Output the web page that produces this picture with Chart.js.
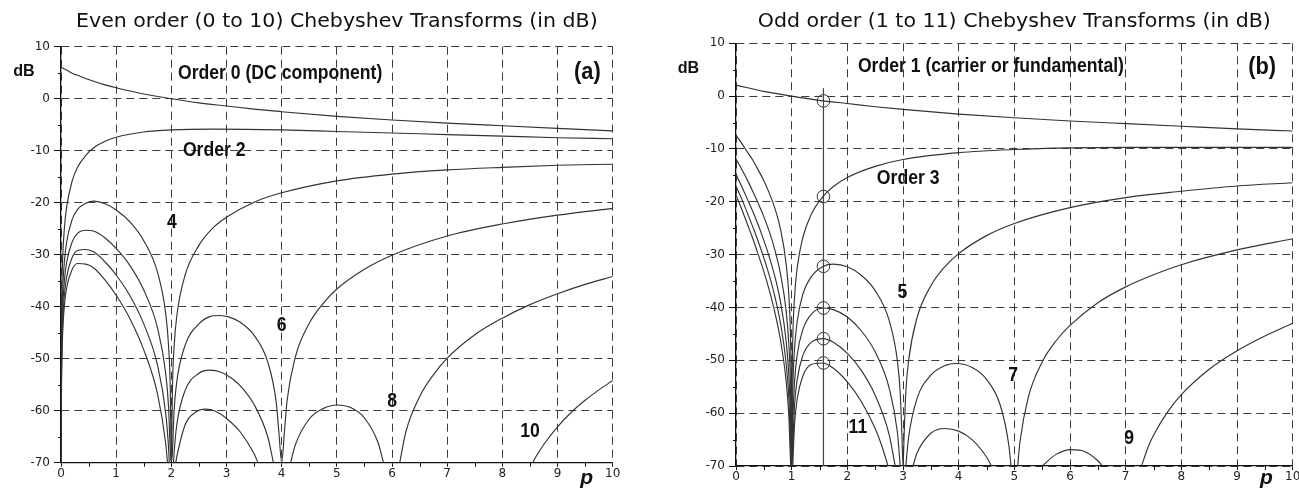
<!DOCTYPE html>
<html>
<head>
<meta charset="utf-8">
<title>Chebyshev Transforms (in dB)</title>
<script src="https://cdn.jsdelivr.net/npm/chart.js@4.4.1/dist/chart.umd.min.js"></script>
<style>
  html, body { margin: 0; padding: 0; background: #fff; overflow: hidden; width: 1299px; height: 489px; }
  .panel { position: absolute; top: 0; }
  #evenWrap { left: 0; width: 650px; height: 489px; }
  #oddWrap { left: 650px; width: 660px; height: 489px; }
</style>
</head>
<body>
<div class="panel" id="evenWrap"><canvas id="evenChart" width="650" height="489"></canvas></div>
<div class="panel" id="oddWrap"><canvas id="oddChart" width="660" height="489"></canvas></div>
<script>
// ---- Data: [p, dB] pairs; null marks where a curve drops below the -70 dB floor ----

// Even orders
const order0 = [[0,6.0],[0.1,5.5],[0.2,4.9],[0.3,4.5],[0.5,3.7],[0.75,2.8],[1,2.1],[1.5,0.9],[2,0],[2.5,-0.8],[3,-1.4],[3.5,-2.0],[4,-2.5],[5,-3.4],[6,-4.1],[7,-4.7],[8,-5.2],[9,-5.7],[10,-6.2]];
const order2 = [[0,-70],[0.003,-50.5],[0.01,-40.1],[0.03,-30.8],[0.06,-25.1],[0.1,-21.0],[0.2,-15.9],[0.3,-13.2],[0.45,-10.9],[0.6,-9.4],[0.8,-8.2],[1,-7.4],[1.5,-6.4],[2,-6.0],[2.75,-5.85],[4,-6.0],[5,-6.3],[6,-6.6],[7,-6.9],[8,-7.2],[9,-7.5],[10,-7.7]];
const order4 = [[0,-70],[0.003,-56.5],[0.01,-46.2],[0.03,-37.0],[0.06,-31.5],[0.1,-27.7],[0.2,-23.3],[0.3,-21.3],[0.45,-20.1],[0.6,-19.7],[0.8,-20.2],[1,-21.4],[1.25,-23.7],[1.5,-27.3],[1.75,-33.4],[1.9,-41.5],[1.95,-47.6],[1.98,-55.6],[1.995,-67.6],[2,-70],[2.005,-67.6],[2.02,-55.6],[2.05,-47.7],[2.1,-41.7],[2.25,-33.9],[2.5,-28.2],[2.75,-24.9],[3,-22.8],[3.5,-19.9],[4,-18.1],[5,-15.8],[6,-14.5],[7,-13.7],[8,-13.2],[9,-12.8],[10,-12.6]];
const order6 = [[0,-70],[0.003,-60.0],[0.01,-49.8],[0.03,-40.6],[0.06,-35.2],[0.1,-31.6],[0.2,-27.6],[0.3,-25.9],[0.45,-25.3],[0.6,-25.5],[0.8,-26.8],[1,-28.8],[1.25,-32.1],[1.5,-36.8],[1.75,-44.1],[1.9,-53.0],[1.95,-59.4],[1.98,-67.5],[2,-70],[2.02,-67.8],[2.05,-60.0],[2.1,-54.3],[2.25,-47.4],[2.5,-43.3],[2.7,-41.9],[2.88,-41.7],[3.05,-42.0],[3.25,-43.0],[3.5,-45.5],[3.75,-50.7],[3.9,-58.3],[3.95,-64.2],[4,-70],[4.05,-64.0],[4.1,-57.9],[4.25,-49.6],[4.5,-43.2],[4.75,-39.4],[5,-36.6],[5.5,-32.8],[6,-30.1],[7,-26.4],[8,-24.1],[9,-22.4],[10,-21.1]];
const order8 = [[0,-70],[0.003,-62.5],[0.01,-52.3],[0.03,-43.2],[0.06,-37.9],[0.1,-34.4],[0.2,-30.6],[0.3,-29.2],[0.45,-29.0],[0.6,-29.5],[0.8,-31.4],[1,-33.9],[1.25,-37.9],[1.5,-43.3],[1.75,-51.3],[1.9,-60.7],[1.95,-67.2],[1.963,-70],[2,null],[2.04,-70],[2.05,-68.1],[2.1,-62.6],[2.25,-56.1],[2.5,-52.8],[2.7,-52.2],[2.9,-52.6],[3.1,-53.8],[3.3,-55.8],[3.5,-58.8],[3.75,-65.1],[3.85,-70],[4,null],[4.16,-70],[4.25,-66.5],[4.5,-61.6],[4.75,-59.6],[5,-58.9],[5.25,-59.4],[5.5,-61.4],[5.75,-66.2],[5.845,-70],[6,null],[6.14,-70],[6.25,-64.1],[6.5,-57.3],[6.75,-53.1],[7,-49.9],[7.5,-45.4],[8,-42.2],[8.5,-39.6],[9,-37.5],[9.5,-35.7],[10,-34.2]];
const order10 = [[0,-70],[0.003,-64.4],[0.01,-54.3],[0.03,-45.2],[0.06,-40.0],[0.1,-36.5],[0.2,-32.9],[0.3,-31.7],[0.45,-31.8],[0.6,-32.6],[0.8,-34.9],[1,-37.8],[1.25,-42.3],[1.5,-48.3],[1.75,-56.8],[1.9,-66.5],[1.93,-70],[2,null],[2.08,-70],[2.1,-68.8],[2.25,-62.7],[2.45,-60.2],[2.62,-59.7],[2.8,-60.1],[3,-61.5],[3.25,-64.1],[3.5,-68.3],[3.57,-70],[6,null],[8.55,-70],[8.6,-69.0],[8.75,-66.5],[9,-63.1],[9.25,-60.3],[9.5,-58.0],[9.75,-56.0],[10,-54.2]];

// Odd orders
const order1 = [[0,2.1],[0.5,0.9],[1,0],[1.5,-0.8],[2,-1.4],[2.5,-2.0],[3,-2.5],[4,-3.4],[5,-4.1],[6,-4.7],[7,-5.2],[8,-5.7],[9,-6.2],[10,-6.6]];
const order3 = [[0,-7.4],[0.1,-8.9],[0.2,-10.5],[0.3,-12.1],[0.4,-14.0],[0.5,-16.0],[0.6,-18.4],[0.7,-21.3],[0.8,-25.2],[0.9,-31.7],[0.95,-37.9],[0.98,-46.0],[0.995,-58.0],[1,-70],[1.005,-58.1],[1.02,-46.1],[1.05,-38.3],[1.1,-32.4],[1.2,-26.8],[1.35,-22.4],[1.57,-18.9],[1.75,-17.1],[2,-15.4],[2.5,-13.3],[3,-12.0],[4,-10.7],[5,-10.1],[6,-9.8],[7,-9.7],[8,-9.7],[9,-9.7],[10,-9.7]];
const order5 = [[0,-11.9],[0.1,-13.8],[0.2,-15.8],[0.3,-18.0],[0.4,-20.3],[0.5,-22.8],[0.6,-25.7],[0.7,-29.2],[0.8,-33.7],[0.9,-40.6],[0.95,-47.1],[0.98,-55.4],[0.995,-67.5],[1,-70],[1.005,-67.7],[1.02,-55.8],[1.05,-48.1],[1.1,-42.6],[1.2,-37.5],[1.35,-34.2],[1.57,-32.2],[1.75,-31.8],[2,-32.3],[2.25,-33.9],[2.5,-36.8],[2.75,-42.4],[2.9,-50.2],[2.95,-56.2],[2.98,-64.1],[3,-70],[3.02,-64.1],[3.05,-56.1],[3.1,-50.1],[3.25,-42.0],[3.5,-35.9],[3.75,-32.3],[4,-29.8],[4.5,-26.4],[5,-24.1],[6,-21.1],[7,-19.2],[8,-18.0],[9,-17.0],[10,-16.4]];
const order7 = [[0,-14.8],[0.1,-17.0],[0.2,-19.4],[0.3,-21.8],[0.4,-24.4],[0.5,-27.3],[0.6,-30.5],[0.7,-34.2],[0.8,-39.0],[0.9,-46.3],[0.95,-53.0],[0.98,-61.3],[1,-70],[1.02,-61.9],[1.05,-54.3],[1.1,-48.9],[1.2,-44.2],[1.35,-41.3],[1.57,-40.1],[1.75,-40.4],[2,-41.8],[2.25,-44.4],[2.5,-48.4],[2.75,-55.2],[2.9,-63.7],[2.95,-70],[3,null],[3.05,-70],[3.1,-64.6],[3.25,-57.3],[3.5,-52.8],[3.75,-51.0],[3.95,-50.6],[4.25,-51.4],[4.5,-53.6],[4.75,-58.6],[4.9,-66.0],[4.94,-70],[5,null],[5.06,-70],[5.1,-65.5],[5.25,-57.0],[5.5,-50.3],[5.75,-46.3],[6,-43.4],[6.5,-39.1],[7,-36.1],[7.5,-33.8],[8,-31.9],[9,-29.1],[10,-27.0]];
const order9 = [[0,-17.0],[0.1,-19.4],[0.2,-22.0],[0.3,-24.7],[0.4,-27.5],[0.5,-30.6],[0.6,-34.0],[0.7,-38.0],[0.8,-43.0],[0.9,-50.5],[0.95,-57.3],[0.98,-65.7],[1,-70],[1.02,-66.3],[1.05,-58.8],[1.1,-53.6],[1.2,-49.1],[1.35,-46.6],[1.57,-45.9],[1.75,-46.6],[2,-48.7],[2.25,-51.9],[2.5,-56.6],[2.75,-64.0],[2.86,-70],[3,null],[3.18,-70],[3.25,-67.6],[3.5,-63.8],[3.75,-62.9],[4,-63.4],[4.25,-65.1],[4.5,-68.3],[4.59,-70],[5,null],[5.5,-70],[5.75,-67.8],[6.02,-66.9],[6.25,-67.2],[6.5,-69.0],[6.58,-70],[7,null],[7.285,-70],[7.4,-66.5],[7.5,-64.2],[7.75,-59.8],[8,-56.5],[8.5,-51.7],[9,-48.2],[9.5,-45.4],[10,-43.0]];
const order11 = [[0,-18.7],[0.1,-21.3],[0.2,-24.1],[0.3,-26.9],[0.4,-30.0],[0.5,-33.2],[0.6,-36.8],[0.7,-41.0],[0.8,-46.2],[0.9,-53.9],[0.95,-60.7],[0.98,-69.2],[0.985,-70],[1,null],[1.02,-69.9],[1.05,-62.4],[1.1,-57.3],[1.2,-53.0],[1.35,-50.8],[1.55,-50.5],[1.75,-51.5],[2,-54.1],[2.25,-57.8],[2.5,-62.9],[2.6,-65.6],[2.7,-68.9],[2.73,-70]];

// Marker line at p = pi/2 and the level of each odd order there
const markerP = 1.5708;
const markerLine = [[markerP,1.5],[markerP,-70]];
const markerLevels = [-0.9,-19.0,-32.2,-40.1,-45.9,-50.5];

// Axis ticks
const pTicks = [0,1,2,3,4,5,6,7,8,9,10];
const dbTicks = [10,0,-10,-20,-30,-40,-50,-60,-70];

// ---- Text ----
const evenTitle = 'Even order (0 to 10) Chebyshev Transforms (in dB)';
const oddTitle = 'Odd order (1 to 11) Chebyshev Transforms (in dB)';
const evenNotes = [
  { text: 'Order 0 (DC component)', p: 2.12, db: 4.9, align: 'left', style: 'note' },
  { text: 'Order 2', p: 2.21, db: -10.0, align: 'left', style: 'note' },
  { text: '(a)', p: 9.54, db: 5.0, align: 'center', style: 'panel' },
  { text: '4', p: 2.01, db: -23.9, align: 'center', style: 'note' },
  { text: '6', p: 4.0, db: -43.7, align: 'center', style: 'note' },
  { text: '8', p: 6.0, db: -58.2, align: 'center', style: 'note' },
  { text: '10', p: 8.5, db: -64.0, align: 'center', style: 'note' }
];
const oddNotes = [
  { text: 'Order 1 (carrier or fundamental)', p: 2.19, db: 5.7, align: 'left', style: 'note' },
  { text: '(b)', p: 9.45, db: 5.3, align: 'center', style: 'panel' },
  { text: 'Order 3', p: 2.53, db: -15.5, align: 'left', style: 'note' },
  { text: '5', p: 2.99, db: -37.1, align: 'center', style: 'note' },
  { text: '7', p: 4.98, db: -52.8, align: 'center', style: 'note' },
  { text: '9', p: 7.06, db: -64.7, align: 'center', style: 'note' },
  { text: '11', p: 2.19, db: -62.8, align: 'center', style: 'note' }
];

// ---- Styling ----
const INK = '#111';
const CURVE = '#333';
const GRID = '#3c3c3c';
const TEXT_STYLES = {
  note:  { font: 'bold 20px "Liberation Sans", Arial, sans-serif', sx: 0.88 },
  panel: { font: 'bold 23px "Liberation Sans", Arial, sans-serif', sx: 0.95 },
  unit:  { font: 'bold 17px "Liberation Sans", Arial, sans-serif', sx: 0.95 },
  axisP: { font: 'bold italic 21px "Liberation Sans", Arial, sans-serif', sx: 1 },
  title: { font: '19px "DejaVu Sans", sans-serif', sx: 1.08 }
};

const toXY = arr => arr.map(([x, y]) => ({ x, y }));

function curve(arr) {
  return {
    data: toXY(arr),
    borderColor: CURVE,
    borderWidth: 1.15,
    pointRadius: 0,
    fill: false,
    spanGaps: false,
    cubicInterpolationMode: 'monotone'
  };
}

function drawText(ctx, text, x, y, styleKey, align, baseline) {
  const st = TEXT_STYLES[styleKey];
  ctx.save();
  ctx.font = st.font;
  ctx.fillStyle = INK;
  ctx.textAlign = align || 'center';
  ctx.textBaseline = baseline || 'middle';
  ctx.translate(x, y);
  ctx.scale(st.sx, 1);
  ctx.fillText(text, 0, 0);
  ctx.restore();
}

// Minor ticks (half units on p, 5 dB steps on the level axis)
const minorTicks = {
  id: 'minorTicks',
  beforeDatasetsDraw(chart) {
    const { ctx, chartArea: a, scales: { x, y } } = chart;
    ctx.save();
    ctx.strokeStyle = INK;
    ctx.lineWidth = 1;
    ctx.beginPath();
    for (let v = 0.5; v < 10; v += 1) {
      const px = Math.round(x.getPixelForValue(v)) + 0.5;
      ctx.moveTo(px, a.bottom);
      ctx.lineTo(px, a.bottom + 4);
    }
    for (let v = -65; v < 10; v += 10) {
      const py = Math.round(y.getPixelForValue(v)) + 0.5;
      ctx.moveTo(a.left - 3, py);
      ctx.lineTo(a.left, py);
    }
    ctx.stroke();
    ctx.restore();
  }
};

// Titles, curve labels, unit label and the italic p
const annotations = {
  id: 'annotations',
  afterDraw(chart, args, opts) {
    const { ctx, chartArea: a, scales: { x, y } } = chart;
    drawText(ctx, opts.title, (a.left + a.right) / 2, opts.titleY, 'title', 'center', 'alphabetic');
    drawText(ctx, 'dB', a.left - opts.unitDx, y.getPixelForValue(5.3), 'unit', 'center', 'middle');
    drawText(ctx, 'p', x.getPixelForValue(9.53), a.bottom + opts.pDy, 'axisP', 'center', 'alphabetic');
    for (const n of opts.notes) {
      drawText(ctx, n.text, x.getPixelForValue(n.p), y.getPixelForValue(n.db), n.style, n.align, 'middle');
    }
  }
};

function makeOptions(cfg) {
  const tickFont = { family: '"DejaVu Sans", sans-serif', size: 12 };
  return {
    responsive: false,
    animation: false,
    events: [],
    layout: { padding: { top: cfg.top, right: cfg.right, left: 0, bottom: 0 } },
    plugins: {
      legend: { display: false },
      tooltip: { enabled: false },
      title: { display: false },
      annotations: { title: cfg.title, titleY: cfg.titleY, notes: cfg.notes, unitDx: cfg.unitDx, pDy: cfg.pDy }
    },
    scales: {
      x: {
        type: 'linear', min: 0, max: 10,
        afterFit(s) { s.height = cfg.xHeight; },
        afterBuildTicks(s) { s.ticks = pTicks.map(v => ({ value: v })); },
        ticks: { font: tickFont, color: '#222', padding: 0, maxRotation: 0, autoSkip: false },
        grid: { color: GRID, lineWidth: 1, drawTicks: true, tickLength: 4, tickColor: INK, tickBorderDash: [] },
        border: { display: true, color: INK, width: 1.3, dash: [8, 5] }
      },
      y: {
        type: 'linear', min: -70, max: 10,
        afterFit(s) { s.width = cfg.yWidth; },
        afterBuildTicks(s) { s.ticks = dbTicks.map(v => ({ value: v })); },
        ticks: { font: tickFont, color: '#222', padding: 4, autoSkip: false },
        grid: { color: GRID, lineWidth: 1, drawTicks: true, tickLength: 7, tickColor: INK, tickBorderDash: [] },
        border: { display: true, color: INK, width: 1.3, dash: [8, 5] }
      }
    }
  };
}

// Panel (a): even orders
new Chart(document.getElementById('evenChart'), {
  type: 'line',
  data: { datasets: [order0, order2, order4, order6, order8, order10].map(curve) },
  options: makeOptions({ top: 46.7, right: 37.3, yWidth: 61, xHeight: 26.3, title: evenTitle, titleY: 27, notes: evenNotes, unitDx: 37, pDy: 21.5 }),
  plugins: [minorTicks, annotations]
});

// Panel (b): odd orders, with the p = pi/2 marker line and circles
const oddDatasets = [order1, order3, order5, order7, order9, order11].map(curve);
oddDatasets.push({
  data: toXY(markerLine),
  borderColor: '#444',
  borderWidth: 1.2,
  pointRadius: 0,
  tension: 0
});
oddDatasets.push({
  data: markerLevels.map(v => ({ x: markerP, y: v })),
  showLine: false,
  pointStyle: 'circle',
  pointRadius: 6.3,
  pointBorderWidth: 1,
  pointBorderColor: '#333',
  pointBackgroundColor: 'rgba(0,0,0,0)'
});

new Chart(document.getElementById('oddChart'), {
  type: 'line',
  data: { datasets: oddDatasets },
  options: makeOptions({ top: 43.3, right: 17.3, yWidth: 86, xHeight: 23, title: oddTitle, titleY: 26.5, notes: oddNotes, unitDx: 47.5, pDy: 18 }),
  plugins: [minorTicks, annotations]
});
</script>
</body>
</html>
